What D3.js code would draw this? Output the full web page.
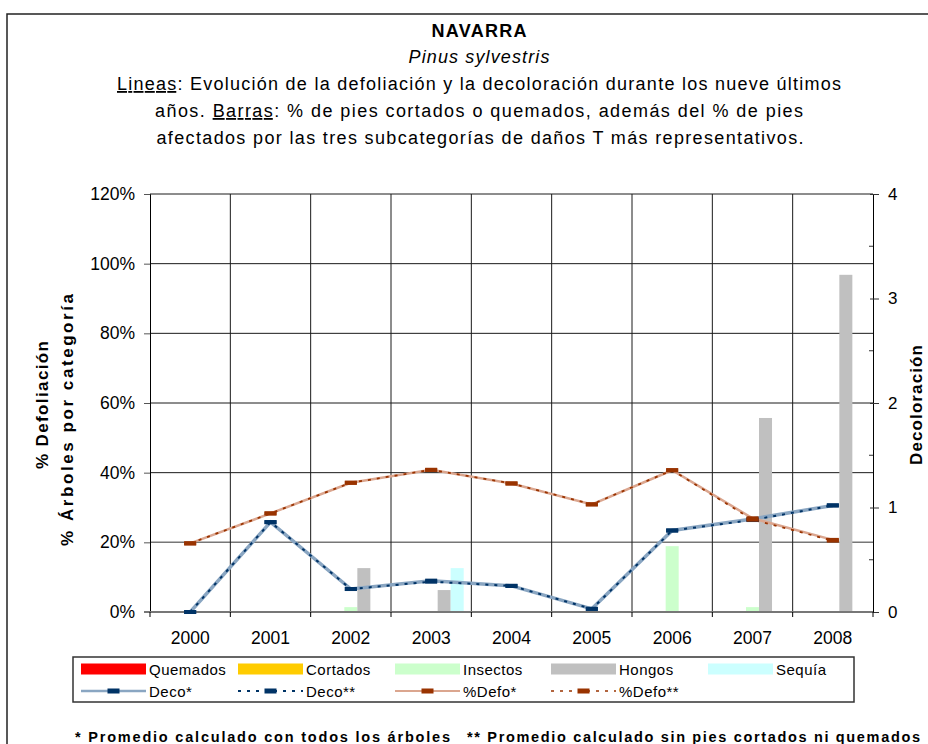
<!DOCTYPE html>
<html>
<head>
<meta charset="utf-8">
<script src="https://cdn.jsdelivr.net/npm/d3@7"></script>
<style>
  body { margin: 0; background: #fff; }
  svg, svg text { font-family: Arial, "Liberation Sans", sans-serif; }
</style>
</head>
<body>
<svg width="928" height="744"></svg>
<script>
"use strict";

// Categories
var years = ["2000", "2001", "2002", "2003", "2004", "2005", "2006", "2007", "2008"];

// Bar series (share of trees, 0..1)
var quemados = [0, 0, 0, 0, 0, 0, 0, 0, 0];
var cortados = [0, 0, 0, 0, 0, 0, 0, 0, 0];
var insectos = [0, 0, 0.014, 0, 0, 0, 0.189, 0.014, 0];
var hongos   = [0, 0, 0.126, 0.063, 0, 0, 0, 0.557, 0.968];
var sequia   = [0, 0, 0, 0.126, 0, 0, 0, 0, 0];

// Line series
var decoAll = [0, 0.86, 0.22, 0.30, 0.25, 0.03, 0.78, 0.89, 1.02];
var decoSin = [0, 0.86, 0.22, 0.29, 0.25, 0.03, 0.78, 0.88, 1.02];
var defoAll = [0.197, 0.283, 0.371, 0.408, 0.369, 0.309, 0.407, 0.269, 0.207];
var defoSin = [0.197, 0.283, 0.371, 0.408, 0.369, 0.309, 0.407, 0.265, 0.205];

// Tick values
var leftTicks = [0, 0.2, 0.4, 0.6, 0.8, 1.0, 1.2];
var rightTicks = [0, 1, 2, 3, 4];
var rightMinor = [0.5, 1.5, 2.5, 3.5];

var barNames = ["Quemados", "Cortados", "Insectos", "Hongos", "Sequía"];
var barValues = [quemados, cortados, insectos, hongos, sequia];
var barColors = ["#ff0000", "#ffcc00", "#ccffcc", "#c0c0c0", "#ccffff"];

var svg = d3.select("svg");

// Outer frame
svg.append("path")
    .attr("d", "M7,760 V14 H940")
    .attr("fill", "none")
    .attr("stroke", "#222")
    .attr("stroke-width", 1.5);

// Titles
var title = svg.append("g").attr("text-anchor", "middle").attr("fill", "#000");
title.append("text").attr("x", 479).attr("y", 37)
    .attr("textLength", 95).attr("lengthAdjust", "spacing")
    .style("font-size", "18px").style("font-weight", "bold").text("NAVARRA");
title.append("text").attr("x", 479).attr("y", 63)
    .attr("textLength", 141).attr("lengthAdjust", "spacing")
    .style("font-size", "18px").style("font-style", "italic").text("Pinus sylvestris");

var l3 = title.append("text").attr("x", 479).attr("y", 90)
    .attr("textLength", 724).attr("lengthAdjust", "spacing")
    .style("font-size", "18px");
l3.append("tspan").attr("text-decoration", "underline").text("Lineas");
l3.append("tspan").text(": Evolución de la defoliación y la decoloración durante los nueve últimos");

var l4 = title.append("text").attr("x", 479).attr("y", 117)
    .attr("textLength", 648).attr("lengthAdjust", "spacing")
    .style("font-size", "18px");
l4.append("tspan").text("años. ");
l4.append("tspan").attr("text-decoration", "underline").text("Barras");
l4.append("tspan").text(": % de pies cortados o quemados, además del % de pies");

title.append("text").attr("x", 480).attr("y", 144)
    .attr("textLength", 647).attr("lengthAdjust", "spacing")
    .style("font-size", "18px")
    .text("afectados por las tres subcategorías de daños T más representativos.");

// Scales
var x0 = d3.scaleBand()
    .domain(years)
    .range([150, 873])
    .paddingInner(0.19)
    .paddingOuter(0.095);

var x1 = d3.scaleBand()
    .domain(barNames)
    .range([0, x0.bandwidth()]);

var xEdge = d3.scaleLinear()
    .domain([0, years.length])
    .range([150, 873]);

var y = d3.scaleLinear().domain([0, 1.2]).range([612, 194]);
var yR = d3.scaleLinear().domain([0, 4]).range([612, 194]);

var cx = function(i) { return x0(years[i]) + x0.bandwidth() / 2; };

// Gridlines
var grid = svg.append("g").attr("class", "grid");
grid.selectAll("line.h")
    .data(leftTicks.slice(2))
    .enter().append("line")
    .attr("class", "h")
    .attr("x1", 150).attr("x2", 873)
    .attr("y1", function(d) { return y(d); })
    .attr("y2", function(d) { return y(d); })
    .attr("stroke", "#1a1a1a")
    .attr("stroke-width", 1);
grid.append("line")
    .attr("x1", 150).attr("x2", 873)
    .attr("y1", y(0.2)).attr("y2", y(0.2))
    .attr("stroke", "#777").attr("stroke-width", 1.5);
grid.selectAll("line.v")
    .data(d3.range(1, years.length))
    .enter().append("line")
    .attr("class", "v")
    .attr("x1", function(d) { return xEdge(d); })
    .attr("x2", function(d) { return xEdge(d); })
    .attr("y1", 194).attr("y2", 612)
    .attr("stroke", "#1a1a1a")
    .attr("stroke-width", 1);

// Bars
var bars = svg.append("g").attr("class", "bars");
barValues.forEach(function(vals, s) {
    bars.selectAll("rect.s" + s)
        .data(vals)
        .enter().append("rect")
        .attr("class", "s" + s)
        .attr("x", function(d, i) { return x0(years[i]) + x1(barNames[s]); })
        .attr("width", x1.bandwidth())
        .attr("y", function(d) { return y(d); })
        .attr("height", function(d) { return y(0) - y(d); })
        .attr("fill", barColors[s]);
});

// Axes
var leftAxis = d3.axisLeft(y)
    .tickValues(leftTicks)
    .tickSize(6)
    .tickPadding(9)
    .tickFormat(d3.format(".0%"));
var gl = svg.append("g")
    .attr("transform", "translate(150,0)")
    .call(leftAxis)
    .attr("font-family", null)
    .attr("font-size", null);
gl.select(".domain").attr("stroke", "#000");
gl.selectAll(".tick line").attr("stroke", "#555");
gl.selectAll("text").style("font-size", "17.5px").attr("fill", "#000");

var rightAxis = d3.axisRight(yR)
    .tickValues(rightTicks)
    .tickSize(6)
    .tickPadding(9)
    .tickFormat(d3.format("d"));
var gr = svg.append("g")
    .attr("transform", "translate(873,0)")
    .call(rightAxis)
    .attr("font-family", null)
    .attr("font-size", null);
gr.select(".domain").attr("stroke", "#000");
gr.selectAll(".tick line").attr("x1", -3).attr("stroke", "#333");
gr.selectAll("text").style("font-size", "17px").attr("fill", "#000");
gr.selectAll("line.minor")
    .data(rightMinor)
    .enter().append("line")
    .attr("class", "minor")
    .attr("x1", -4).attr("x2", 0)
    .attr("y1", function(d) { return yR(d); })
    .attr("y2", function(d) { return yR(d); })
    .attr("stroke", "#333");

// Baseline and x ticks
svg.append("line")
    .attr("x1", 144).attr("x2", 873)
    .attr("y1", y(0)).attr("y2", y(0))
    .attr("stroke", "#777").attr("stroke-width", 2);
svg.append("g").selectAll("line")
    .data(d3.range(0, years.length + 1))
    .enter().append("line")
    .attr("x1", function(d) { return xEdge(d); })
    .attr("x2", function(d) { return xEdge(d); })
    .attr("y1", 612).attr("y2", 617)
    .attr("stroke", "#000");
svg.append("g").selectAll("text")
    .data(years)
    .enter().append("text")
    .attr("x", function(d, i) { return cx(i); })
    .attr("y", 644)
    .attr("text-anchor", "middle")
    .style("font-size", "17.5px")
    .text(function(d) { return d; });

// Axis titles
svg.append("text")
    .attr("transform", "translate(48,405) rotate(-90)")
    .attr("text-anchor", "middle")
    .attr("textLength", 128).attr("lengthAdjust", "spacing")
    .style("font-size", "17px").style("font-weight", "bold")
    .text("% Defoliación");
svg.append("text")
    .attr("transform", "translate(73,420) rotate(-90)")
    .attr("text-anchor", "middle")
    .attr("textLength", 252).attr("lengthAdjust", "spacing")
    .style("font-size", "17px").style("font-weight", "bold")
    .text("% Árboles por categoría");
svg.append("text")
    .attr("transform", "translate(922,405) rotate(-90)")
    .attr("text-anchor", "middle")
    .attr("textLength", 120).attr("lengthAdjust", "spacing")
    .style("font-size", "17px").style("font-weight", "bold")
    .text("Decoloración");

// Lines
var lineDeco = d3.line()
    .x(function(d, i) { return cx(i); })
    .y(function(d) { return yR(d); });
var lineDefo = d3.line()
    .x(function(d, i) { return cx(i); })
    .y(function(d) { return y(d); });

var lines = svg.append("g").attr("class", "lines").attr("fill", "none");
lines.append("path").attr("d", lineDeco(decoAll))
    .attr("stroke", "#8aa6c2").attr("stroke-width", 3.5);
lines.append("path").attr("d", lineDefo(defoAll))
    .attr("stroke", "#dba68f").attr("stroke-width", 2.5);
lines.append("path").attr("d", lineDeco(decoSin))
    .attr("stroke", "#003366").attr("stroke-width", 2)
    .attr("stroke-dasharray", "3,6");
lines.append("path").attr("d", lineDefo(defoSin))
    .attr("stroke", "#993300").attr("stroke-width", 1.8)
    .attr("stroke-dasharray", "3,6");

var markers = svg.append("g").attr("class", "markers");
var addMarkers = function(vals, scale, color) {
    markers.selectAll(null)
        .data(vals)
        .enter().append("rect")
        .attr("x", function(d, i) { return cx(i) - 6; })
        .attr("y", function(d) { return scale(d) - 2; })
        .attr("width", 12)
        .attr("height", 4)
        .attr("fill", color);
};
addMarkers(decoAll, yR, "#003366");
addMarkers(decoSin, yR, "#003366");
addMarkers(defoAll, y, "#993300");
addMarkers(defoSin, y, "#993300");

// Legend
var legend = svg.append("g").attr("class", "legend");
legend.append("rect")
    .attr("x", 73).attr("y", 657)
    .attr("width", 781).attr("height", 45)
    .attr("fill", "#fff")
    .attr("stroke", "#333")
    .attr("stroke-width", 1.5);

var colX = [81, 238, 395, 551, 708];
var row1 = 669, row2 = 691;

barNames.forEach(function(name, s) {
    legend.append("rect")
        .attr("x", colX[s]).attr("y", row1 - 5.5)
        .attr("width", 65).attr("height", 11)
        .attr("fill", barColors[s]);
    legend.append("text")
        .attr("x", colX[s] + 68).attr("y", row1 + 5.5)
        .style("font-size", "15px").style("letter-spacing", "0.5px")
        .text(name);
});

var lineKeys = [
    { name: "Deco*", stroke: "#8aa6c2", width: 2.5, dash: null, mark: "#003366" },
    { name: "Deco**", stroke: "#003366", width: 1.8, dash: "3,6", mark: "#003366" },
    { name: "%Defo*", stroke: "#dba68f", width: 2.2, dash: null, mark: "#993300" },
    { name: "%Defo**", stroke: "#993300", width: 1.6, dash: "3,6", mark: "#993300" }
];
lineKeys.forEach(function(k, j) {
    legend.append("line")
        .attr("x1", colX[j]).attr("x2", colX[j] + 65)
        .attr("y1", row2).attr("y2", row2)
        .attr("stroke", k.stroke)
        .attr("stroke-width", k.width)
        .attr("stroke-dasharray", k.dash);
    legend.append("rect")
        .attr("x", colX[j] + 26.5).attr("y", row2 - 2.5)
        .attr("width", 12).attr("height", 5)
        .attr("fill", k.mark);
    legend.append("text")
        .attr("x", colX[j] + 68).attr("y", row2 + 5.5)
        .style("font-size", "15px").style("letter-spacing", "0.5px")
        .text(k.name);
});

// Footnote
svg.append("text")
    .attr("x", 75).attr("y", 742)
    .attr("textLength", 375).attr("lengthAdjust", "spacing")
    .style("font-size", "14.5px").style("font-weight", "bold")
    .text("* Promedio calculado con todos los árboles");
svg.append("text")
    .attr("x", 467).attr("y", 742)
    .attr("textLength", 453).attr("lengthAdjust", "spacing")
    .style("font-size", "14.5px").style("font-weight", "bold")
    .text("** Promedio calculado sin pies cortados ni quemados");
</script>
</body>
</html>
